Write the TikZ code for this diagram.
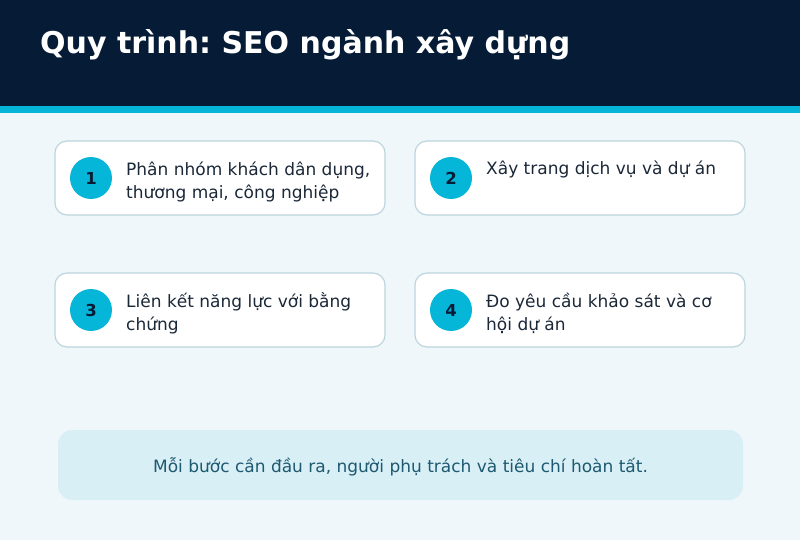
\documentclass[tikz,border=0pt]{standalone}
\usepackage{fontspec}
\setmainfont{DejaVu Sans}
\frenchspacing
\definecolor{navy}{HTML}{061C36}
\definecolor{cyanband}{HTML}{06B6D8}
\definecolor{bgc}{HTML}{F0F7FA}
\definecolor{cardborder}{HTML}{BCD5DD}
\definecolor{txt}{HTML}{1B2838}
\definecolor{notefill}{HTML}{D8EFF6}
\definecolor{notetxt}{HTML}{1E5970}
\tikzset{
  card/.style={draw=cardborder, line width=1.2pt, fill=white, rounded corners=12pt},
  badge/.style={circle, fill=cyanband, minimum size=42pt, inner sep=0pt, font=\bfseries\fontsize{16.5}{18}\selectfont, text=navy},
  cardtext/.style={anchor=base west, align=left, inner sep=0pt, text=txt, font=\fontsize{17}{23}\selectfont},
}
\begin{document}
\begin{tikzpicture}[x=1pt,y=-1pt]
\useasboundingbox (0,0) rectangle (800,540);
\fill[bgc] (0,0) rectangle (800,540);
\fill[navy] (0,0) rectangle (800,106);
\fill[cyanband] (0,106) rectangle (800,113);
\node[anchor=base west, inner sep=0pt, text=white, font=\bfseries\fontsize{30}{32}\selectfont] (title) at (40,54) {Quy trình: SEO ngành xây dựng};
% cards
\draw[card] (55,141) rectangle (385,215);
\draw[card] (415,141) rectangle (745,215);
\draw[card] (55,273) rectangle (385,347);
\draw[card] (415,273) rectangle (745,347);
\node[badge] (b1) at (91,178) {1};
\node[badge] (b2) at (451,178) {2};
\node[badge] (b3) at (91,310) {3};
\node[badge] (b4) at (451,310) {4};
\node[cardtext] (t1) at (126,198) {Phân nhóm khách dân dụng,\\thương mại, công nghiệp};
\node[cardtext] (t2) at (486,175) {Xây trang dịch vụ và dự án};
\node[cardtext] (t3) at (126,330) {Liên kết năng lực với bằng\\chứng};
\node[cardtext] (t4) at (486,330) {Đo yêu cầu khảo sát và cơ\\hội dự án};
% note
\fill[notefill, rounded corners=14pt] (58,430) rectangle (743,500);
\node[anchor=base, inner sep=0pt, text=notetxt, font=\fontsize{17}{20}\selectfont] (note) at (400.5,472) {Mỗi bước cần đầu ra, người phụ trách và tiêu chí hoàn tất.};
\end{tikzpicture}
\end{document}
